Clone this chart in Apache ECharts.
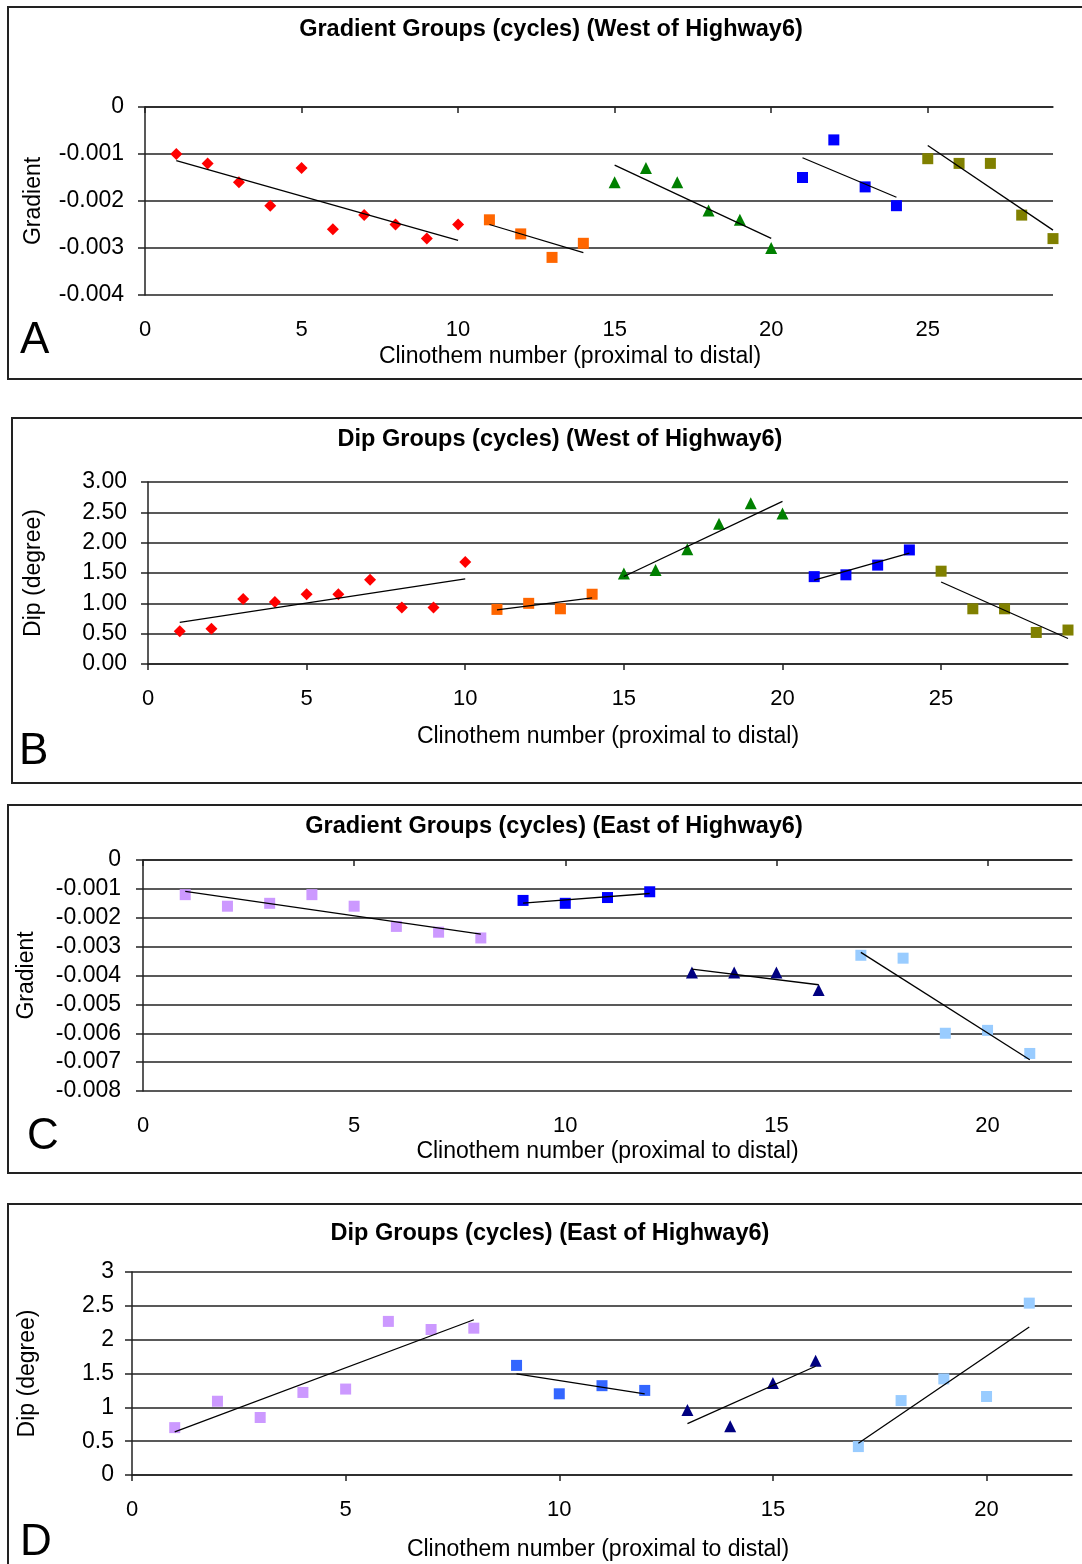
<!DOCTYPE html>
<html>
<head>
<meta charset="utf-8">
<script src="https://cdn.jsdelivr.net/npm/echarts@6/dist/echarts.min.js"></script>
<style>
  html, body { margin: 0; padding: 0; background: #fff; }
  #chart { width: 1082px; height: 1564px; }
</style>
</head>
<body>
<div id="chart"></div>
<script>
var FONT = '"Liberation Sans", Arial, sans-serif';
var INK = '#222';

// clinothem numbers, grouped into cycles
var westCycle1 = [1, 2, 3, 4, 5, 6, 7, 8, 9, 10];
var westCycle2 = [11, 12, 13, 14];
var westCycle3 = [15, 16, 17, 18, 19, 20];
var westCycle4 = [21, 22, 23, 24];
var westCycle5 = [25, 26, 27, 28, 29];
var eastCycle1 = [1, 2, 3, 4, 5, 6, 7, 8];
var eastCycle2 = [9, 10, 11, 12];
var eastCycle3 = [13, 14, 15, 16];
var eastCycle4 = [17, 18, 19, 20, 21];

// A - gradient, west of highway 6
var gradWest1 = [-0.0010, -0.0012, -0.0016, -0.0021, -0.0013, -0.0026, -0.0023, -0.0025, -0.0028, -0.0025];
var gradWest2 = [-0.0024, -0.0027, -0.0032, -0.0029];
var gradWest3 = [-0.0016, -0.0013, -0.0016, -0.0022, -0.0024, -0.0030];
var gradWest4 = [-0.0015, -0.0007, -0.0017, -0.0021];
var gradWest5 = [-0.0011, -0.0012, -0.0012, -0.0023, -0.0028];

// B - dip, west of highway 6
var dipWest1 = [0.54, 0.58, 1.07, 1.02, 1.15, 1.15, 1.39, 0.93, 0.93, 1.68];
var dipWest2 = [0.90, 1.00, 0.91, 1.15];
var dipWest3 = [1.49, 1.55, 1.89, 2.31, 2.65, 2.48];
var dipWest4 = [1.44, 1.47, 1.63, 1.88];
var dipWest5 = [1.53, 0.91, 0.91, 0.52, 0.56];

// C - gradient, east of highway 6
var gradEast1 = [-0.0012, -0.0016, -0.0015, -0.0012, -0.0016, -0.0023, -0.0025, -0.0027];
var gradEast2 = [-0.0014, -0.0015, -0.0013, -0.0011];
var gradEast3 = [-0.0039, -0.0039, -0.0039, -0.0045];
var gradEast4 = [-0.0033, -0.0034, -0.0060, -0.0059, -0.0067];

// D - dip, east of highway 6
var dipEast1 = [0.70, 1.09, 0.85, 1.22, 1.27, 2.27, 2.15, 2.17];
var dipEast2 = [1.62, 1.20, 1.32, 1.25];
var dipEast3 = [0.96, 0.72, 1.36, 1.69];
var dipEast4 = [0.42, 1.10, 1.42, 1.16, 2.54];

var westTicks = [0, 5, 10, 15, 20, 25];
var eastTicks = [0, 5, 10, 15, 20];

// least squares line over a group, drawn between its first and last point (like Excel)
function trend(xs, ys) {
    var n = xs.length, mx = 0, my = 0, sxy = 0, sxx = 0;
    for (var i = 0; i < n; i++) { mx += xs[i]; my += ys[i]; }
    mx /= n; my /= n;
    for (var j = 0; j < n; j++) {
        sxy += (xs[j] - mx) * (ys[j] - my);
        sxx += (xs[j] - mx) * (xs[j] - mx);
    }
    var b = sxy / sxx, a = my - b * mx;
    return [[xs[0], a + b * xs[0]], [xs[n - 1], a + b * xs[n - 1]]];
}

var panels = [
    {
        title: 'Gradient Groups (cycles) (West of Highway6)', titleX: 551, titleTop: 18,
        letter: 'A', letterX: 20, letterY: 341, box: [8, 7, 1100, 372],
        grid: { left: 145, top: 107, width: 908, height: 188 },
        xMax: 29, xTicks: westTicks, zeroOnTop: true, xNameGap: 50, xNamePad: [0, 58, 0, 0],
        yMin: -0.004, yMax: 0, yStep: 0.001, yName: 'Gradient', yNameGap: 100, yMargin: 21,
        groups: [
            [westCycle1, gradWest1, '#FF0000', 'diamond'],
            [westCycle2, gradWest2, '#FF6600', 'rect'],
            [westCycle3, gradWest3, '#008000', 'triangle'],
            [westCycle4, gradWest4, '#0000FF', 'rect'],
            [westCycle5, gradWest5, '#808000', 'rect']
        ]
    },
    {
        title: 'Dip Groups (cycles) (West of Highway6)', titleX: 560, titleTop: 428,
        letter: 'B', letterX: 19, letterY: 752, box: [12, 418, 1100, 365],
        grid: { left: 148, top: 482, width: 920, height: 182 },
        xMax: 29, xTicks: westTicks, zeroOnTop: false, xNameGap: 61, xNamePad: 0,
        yMin: 0, yMax: 3, yStep: 0.5, yName: 'Dip (degree)', yNameGap: 103, yMargin: 21,
        yFmt: function (v) { return v.toFixed(2); },
        groups: [
            [westCycle1, dipWest1, '#FF0000', 'diamond'],
            [westCycle2, dipWest2, '#FF6600', 'rect'],
            [westCycle3, dipWest3, '#008000', 'triangle'],
            [westCycle4, dipWest4, '#0000FF', 'rect'],
            [westCycle5, dipWest5, '#808000', 'rect']
        ]
    },
    {
        title: 'Gradient Groups (cycles) (East of Highway6)', titleX: 554, titleTop: 815,
        letter: 'C', letterX: 27, letterY: 1137, box: [8, 805, 1100, 368],
        grid: { left: 143, top: 860, width: 929, height: 231 },
        xMax: 22, xTicks: eastTicks, zeroOnTop: true, xNameGap: 49, xNamePad: 0,
        yMin: -0.008, yMax: 0, yStep: 0.001, yName: 'Gradient', yNameGap: 105, yMargin: 22,
        groups: [
            [eastCycle1, gradEast1, '#CC99FF', 'rect'],
            [eastCycle2, gradEast2, '#0000FF', 'rect'],
            [eastCycle3, gradEast3, '#000080', 'triangle'],
            [eastCycle4, gradEast4, '#99CCFF', 'rect']
        ]
    },
    {
        title: 'Dip Groups (cycles) (East of Highway6)', titleX: 550, titleTop: 1222,
        letter: 'D', letterX: 20, letterY: 1543, box: [8, 1204, 1100, 400],
        grid: { left: 132, top: 1272, width: 940, height: 203 },
        xMax: 22, xTicks: eastTicks, zeroOnTop: false, xNameGap: 63, xNamePad: [0, 8, 0, 0],
        yMin: 0, yMax: 3, yStep: 0.5, yName: 'Dip (degree)', yNameGap: 93, yMargin: 18,
        groups: [
            [eastCycle1, dipEast1, '#CC99FF', 'rect'],
            [eastCycle2, dipEast2, '#3366FF', 'rect'],
            [eastCycle3, dipEast3, '#000080', 'triangle'],
            [eastCycle4, dipEast4, '#99CCFF', 'rect']
        ]
    }
];

var option = {
    animation: false,
    textStyle: { fontFamily: FONT },
    title: [], grid: [], xAxis: [], yAxis: [], series: [], graphic: []
};

var symbolSize = { diamond: 12, rect: 11, triangle: 12 };

panels.forEach(function (p, k) {
    option.graphic.push({
        type: 'rect', silent: true, z: 0,
        shape: { x: p.box[0], y: p.box[1], width: p.box[2], height: p.box[3] },
        style: { fill: 'none', stroke: INK, lineWidth: 2 }
    });
    option.graphic.push({
        type: 'text', silent: true, x: p.letterX, y: p.letterY,
        style: { text: p.letter, font: '44px ' + FONT, fill: '#000', verticalAlign: 'middle' }
    });
    option.title.push({
        text: p.title, left: p.titleX, top: p.titleTop, textAlign: 'center', padding: 0,
        textStyle: { fontSize: 23.5, fontWeight: 'bold', color: '#000', fontFamily: FONT }
    });
    option.grid.push(p.grid);

    var xi = option.xAxis.length;
    option.xAxis.push({
        type: 'value', gridIndex: k, position: 'bottom', min: 0, max: p.xMax, interval: 5,
        axisLine: { show: !p.zeroOnTop, onZero: false, lineStyle: { color: INK, width: 1.5 } },
        axisTick: { show: !p.zeroOnTop, length: 6, customValues: p.xTicks, lineStyle: { color: INK, width: 1.5 } },
        axisLabel: { customValues: p.xTicks, fontSize: 22, color: '#000', margin: 24 },
        splitLine: { show: false },
        name: 'Clinothem number (proximal to distal)', nameLocation: 'middle', nameGap: p.xNameGap,
        nameTextStyle: { fontSize: 23, color: '#000', padding: p.xNamePad }
    });
    if (p.zeroOnTop) {
        option.xAxis.push({
            type: 'value', gridIndex: k, position: 'top', min: 0, max: p.xMax, interval: 5,
            axisLine: { show: true, onZero: false, lineStyle: { color: INK, width: 1.5 } },
            axisTick: { show: true, inside: true, length: 6, customValues: p.xTicks, lineStyle: { color: INK, width: 1.5 } },
            axisLabel: { show: false },
            splitLine: { show: false }
        });
    }

    var yi = option.yAxis.length;
    option.yAxis.push({
        type: 'value', gridIndex: k, min: p.yMin, max: p.yMax, interval: p.yStep,
        axisLine: { show: true, onZero: false, lineStyle: { color: INK, width: 1.5 } },
        axisTick: { show: true, length: 7, lineStyle: { color: INK, width: 1.5 } },
        axisLabel: { fontSize: 23, color: '#000', margin: p.yMargin, formatter: p.yFmt },
        splitLine: { show: true, lineStyle: { color: INK, width: 1.5 } },
        name: p.yName, nameLocation: 'middle', nameRotate: 90, nameGap: p.yNameGap,
        nameTextStyle: { fontSize: 23, color: '#000' }
    });

    p.groups.forEach(function (g) {
        var xs = g[0], ys = g[1];
        option.series.push({
            type: 'scatter', xAxisIndex: xi, yAxisIndex: yi,
            data: xs.map(function (x, i) { return [x, ys[i]]; }),
            symbol: g[3], symbolSize: symbolSize[g[3]],
            itemStyle: { color: g[2], opacity: 1 }
        });
    });
    p.groups.forEach(function (g) {
        option.series.push({
            type: 'line', xAxisIndex: xi, yAxisIndex: yi,
            data: trend(g[0], g[1]), symbol: 'none', silent: true,
            lineStyle: { color: '#000', width: 1.3 }
        });
    });
});

var myChart = echarts.init(document.getElementById('chart'), null, { renderer: 'canvas' });
myChart.setOption(option);
window.addEventListener('resize', myChart.resize);
</script>
</body>
</html>
